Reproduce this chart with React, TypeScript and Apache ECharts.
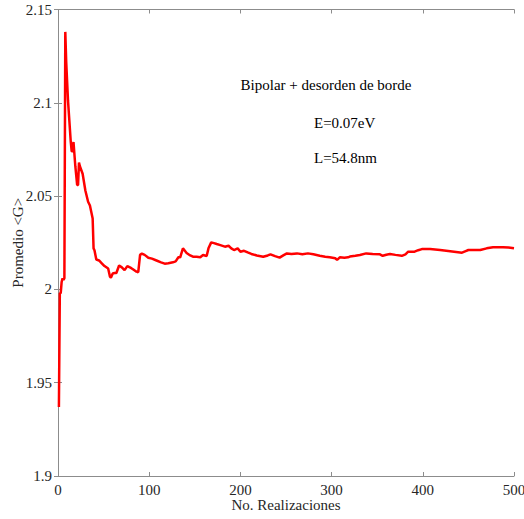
import React, { useEffect, useRef } from "react";
import * as echarts from "echarts";

const realizaciones = [
  1, 2, 3, 4, 5, 6, 7, 8, 9, 11, 14, 15, 16, 17, 19, 21, 22, 23, 24, 27, 30, 33, 35, 38, 39, 40, 42, 45, 48, 51,
  55, 57, 58, 60, 62, 64, 67, 70, 73, 76, 80, 83, 86, 88, 90, 92, 95, 99, 103, 108, 113, 117, 121, 126, 129, 132,
  134, 137, 141, 145, 148, 152, 156, 159, 163, 165, 168, 171, 174, 178, 183, 187, 190, 193, 197, 200, 204, 208,
  212, 218, 225, 230, 233, 238, 243, 247, 251, 256, 262, 268, 274, 280, 287, 293, 298, 304, 306, 309, 314, 318,
  320, 326, 331, 338, 345, 353, 356, 360, 364, 370, 377, 381, 384, 391, 395, 399, 408, 419, 430, 443, 447, 450,
  457, 463, 470, 477, 488, 494, 500,
];

const promedioG = [
  1.937, 1.998, 1.998, 2.004, 2.006, 2.005, 2.006, 2.138, 2.122, 2.101, 2.079, 2.074, 2.074, 2.079, 2.066, 2.056,
  2.056, 2.068, 2.066, 2.062, 2.053, 2.047, 2.045, 2.038, 2.022, 2.021, 2.016, 2.0155, 2.014, 2.0125, 2.0112,
  2.0068, 2.0063, 2.0085, 2.0088, 2.0088, 2.0128, 2.0118, 2.0103, 2.0125, 2.0115, 2.0105, 2.0095, 2.0092, 2.0185,
  2.0192, 2.0185, 2.017, 2.0165, 2.0155, 2.0145, 2.0138, 2.014, 2.0145, 2.015, 2.0172, 2.0172, 2.022, 2.0195,
  2.0182, 2.0175, 2.0175, 2.0172, 2.0184, 2.0179, 2.022, 2.0252, 2.0248, 2.0243, 2.0237, 2.0229, 2.0234, 2.022,
  2.0211, 2.022, 2.0202, 2.0207, 2.0198, 2.019, 2.0182, 2.0175, 2.0182, 2.0188, 2.0178, 2.017, 2.0182, 2.0193,
  2.019, 2.0193, 2.0188, 2.0193, 2.0188, 2.018, 2.0175, 2.0172, 2.0167, 2.0158, 2.0172, 2.017, 2.0172, 2.0176,
  2.018, 2.0184, 2.0193, 2.019, 2.0188, 2.018, 2.0186, 2.019, 2.0185, 2.018, 2.0188, 2.0202, 2.0202, 2.021,
  2.0216, 2.0216, 2.0211, 2.0205, 2.0197, 2.0205, 2.0211, 2.0211, 2.0211, 2.022, 2.0226, 2.0226, 2.0224, 2.022,
];

const annotations = ["Bipolar + desorden de borde", "E=0.07eV", "L=54.8nm"];
const xAxisTitle = "No. Realizaciones";
const yAxisTitle = "Promedio <G>";

export default function App() {
  const ref = useRef<HTMLDivElement>(null);
  useEffect(() => {
    if (!ref.current) return;
    const chart = echarts.init(ref.current, null, { renderer: "svg" });
    const font = "Liberation Serif, Times New Roman, serif";
    const axisColor = "#8c8c8c";
    const labelColor = "#262626";
    const common = {
      axisLine: { show: true, lineStyle: { color: axisColor, width: 1 } },
      axisTick: { show: true, inside: true, length: 4, lineStyle: { color: axisColor } },
      splitLine: { show: false },
    };
    chart.setOption({
      animation: false,
      backgroundColor: "#ffffff",
      grid: { left: 58, right: 10, top: 9.5, bottom: 43, containLabel: false, outerBoundsMode: "none" },
      xAxis: [
        {
          type: "value",
          min: 0,
          max: 500,
          interval: 100,
          position: "bottom",
          name: xAxisTitle,
          nameLocation: "middle",
          nameGap: 22,
          nameMoveOverlap: false,
          nameTextStyle: { fontFamily: font, fontSize: 15, lineHeight: 14, color: labelColor },
          axisLabel: { fontFamily: font, fontSize: 15, lineHeight: 14, color: labelColor, margin: 7 },
          ...common,
        },
        {
          type: "value",
          min: 0,
          max: 500,
          interval: 100,
          position: "top",
          axisLabel: { show: false },
          ...common,
        },
      ],
      yAxis: [
        {
          type: "value",
          min: 1.9,
          max: 2.15,
          interval: 0.05,
          position: "left",
          name: yAxisTitle,
          nameLocation: "middle",
          nameGap: 33,
          nameMoveOverlap: false,
          nameTextStyle: { fontFamily: font, fontSize: 15, color: labelColor },
          axisLabel: { fontFamily: font, fontSize: 15, color: labelColor, margin: 6 },
          ...common,
        },
        {
          type: "value",
          min: 1.9,
          max: 2.15,
          interval: 0.05,
          position: "right",
          axisLabel: { show: false },
          ...common,
        },
      ],
      series: [
        {
          type: "line",
          data: realizaciones.map((n, i) => [n, promedioG[i]]),
          showSymbol: false,
          lineStyle: { color: "#ff0000", width: 2.5 },
          itemStyle: { color: "#ff0000" },
        },
      ],
      graphic: [
        {
          type: "text",
          x: 326,
          y: 85,
          style: { text: annotations[0], fontFamily: font, fontSize: 15, fill: "#000", align: "center", verticalAlign: "middle" },
        },
        {
          type: "text",
          x: 314,
          y: 123,
          style: { text: annotations[1], fontFamily: font, fontSize: 15, fill: "#000", align: "left", verticalAlign: "middle" },
        },
        {
          type: "text",
          x: 314,
          y: 158,
          style: { text: annotations[2], fontFamily: font, fontSize: 15, fill: "#000", align: "left", verticalAlign: "middle" },
        },
      ],
    });
    return () => chart.dispose();
  }, []);
  return <div ref={ref} style={{ width: 524, height: 519, position: "absolute", left: 0, top: 0 }} />;
}
